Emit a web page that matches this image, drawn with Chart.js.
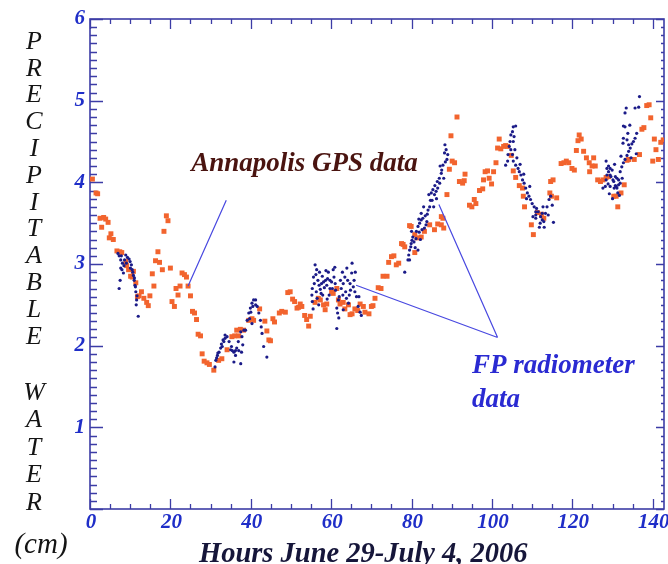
<!DOCTYPE html>
<html>
<head>
<meta charset="utf-8">
<script src="https://cdn.jsdelivr.net/npm/chart.js@4/dist/chart.umd.min.js"></script>
<style>
  html, body { margin: 0; padding: 0; background: #fff; }
  canvas { display: block; }
</style>
</head>
<body>
<canvas id="pwChart" width="668" height="564"></canvas>
<script>
// Annapolis GPS precipitable water (orange squares)
var gpsHours = [0.6, 1.5, 1.9, 2.5, 2.9, 3.4, 3.9, 4.5, 4.8, 5.2, 5.8, 6.7, 7.4, 7.9, 8.9, 9.1, 9.6, 10.1, 10.5, 10.8,
    11.4, 11.8, 12.2, 12.8, 13.4, 14.1, 14.5, 14.9, 15.5, 15.9, 16.3, 16.9, 17.3, 18.0, 18.4, 19.0, 19.4, 20.0, 20.4, 21.0,
    21.4, 21.9, 22.4, 22.9, 23.5, 24.0, 24.4, 25.0, 25.5, 26.0, 26.5, 26.9, 27.5, 27.9, 28.4, 29.1, 29.7, 30.8, 32.0, 32.8,
    34.1, 35.3, 36.0, 36.5, 37.0, 37.4, 38.2, 39.5, 40.3, 40.7, 42.2, 43.5, 44.0, 44.5, 44.9, 45.5, 45.9, 47.1, 47.7, 48.6,
    49.2, 49.8, 50.4, 50.9, 51.5, 51.9, 52.3, 52.7, 53.4, 53.9, 54.4, 54.8, 56.0, 56.8, 57.3, 58.1, 58.5, 58.9, 60.1, 60.5,
    61.4, 61.8, 62.2, 63.0, 63.4, 64.3, 64.7, 65.2, 65.9, 66.6, 67.2, 68.0, 68.4, 69.4, 70.0, 70.4, 70.9, 71.7, 72.4, 72.9,
    73.9, 74.3, 75.0, 75.6, 76.2, 76.8, 77.5, 77.9, 78.3, 79.5, 79.9, 80.8, 80.8, 81.4, 82.4, 83.2, 84.5, 85.7, 86.5, 87.4,
    87.4, 87.8, 88.0, 88.8, 89.4, 89.8, 90.1, 90.7, 91.3, 91.9, 92.7, 93.1, 93.3, 94.4, 95.0, 95.6, 96.0, 96.9, 97.7, 97.9,
    98.3, 98.9, 99.3, 99.9, 100.4, 101.0, 101.4, 101.8, 102.2, 102.9, 103.4, 103.9, 104.8, 105.3, 105.9, 106.8, 107.6, 107.8, 108.1, 109.8,
    110.3, 111.3, 112.3, 112.9, 114.4, 114.6, 114.8, 115.2, 116.1, 117.2, 117.9, 118.5, 119.1, 119.9, 120.5, 121.0, 121.4, 121.7, 122.2, 122.8,
    123.5, 124.2, 124.3, 124.9, 125.3, 125.7, 126.3, 127.0, 127.6, 128.4, 129.0, 130.3, 130.9, 131.3, 132.1, 132.9, 133.6, 134.0, 135.4, 136.7,
    137.3, 137.8, 138.5, 139.1, 139.5, 140.0, 140.4, 140.8, 141.4, 142.0, 142.6];
var gpsPW = [4.04, 3.87, 3.86, 3.56, 3.45, 3.57, 3.55, 3.51, 3.32, 3.37, 3.30, 3.16, 3.15, 3.14, 3.03, 2.98, 2.93, 2.85, 2.84, 2.91,
    2.77, 2.60, 2.61, 2.66, 2.58, 2.53, 2.49, 2.61, 2.88, 2.73, 3.04, 3.15, 3.02, 2.93, 3.40, 3.59, 3.53, 2.95, 2.54, 2.48,
    2.70, 2.62, 2.73, 2.89, 2.87, 2.84, 2.73, 2.61, 2.42, 2.40, 2.32, 2.14, 2.12, 1.90, 1.81, 1.79, 1.77, 1.70, 1.82, 1.84,
    1.95, 2.11, 2.12, 2.19, 2.12, 2.20, 2.19, 2.31, 2.33, 2.31, 2.45, 2.30, 2.18, 2.07, 2.06, 2.33, 2.29, 2.40, 2.42, 2.41,
    2.65, 2.66, 2.57, 2.54, 2.46, 2.47, 2.51, 2.48, 2.37, 2.32, 2.24, 2.36, 2.53, 2.58, 2.56, 2.50, 2.44, 2.51, 2.66, 2.64,
    2.70, 2.56, 2.51, 2.53, 2.45, 2.50, 2.38, 2.39, 2.45, 2.43, 2.51, 2.48, 2.41, 2.39, 2.48, 2.49, 2.58, 2.71, 2.70, 2.85,
    2.85, 3.02, 3.09, 3.10, 2.99, 3.01, 3.25, 3.24, 3.21, 3.47, 3.46, 3.36, 3.14, 3.32, 3.33, 3.40, 3.48, 3.42, 3.49, 3.48,
    3.58, 3.56, 3.44, 3.85, 4.16, 4.57, 4.26, 4.24, 4.80, 4.01, 3.99, 4.02, 4.10, 3.72, 3.70, 3.79, 3.74, 3.90, 3.92, 4.03,
    4.13, 4.14, 4.05, 3.98, 4.13, 4.24, 4.42, 4.53, 4.41, 4.44, 4.45, 4.44, 4.33, 4.14, 4.06, 3.96, 3.93, 3.83, 3.70, 3.48,
    3.36, 3.63, 3.61, 3.56, 3.87, 4.01, 3.83, 4.03, 3.81, 4.23, 4.24, 4.26, 4.24, 4.17, 4.15, 4.39, 4.51, 4.58, 4.53, 4.38,
    4.30, 4.24, 4.13, 4.20, 4.30, 4.20, 4.03, 4.01, 4.03, 4.06, 4.07, 3.83, 3.83, 3.70, 3.87, 3.97, 4.27, 4.28, 4.28, 4.34,
    4.65, 4.67, 4.94, 4.95, 4.79, 4.26, 4.53, 4.40, 4.28, 4.49, 4.52];

// FP radiometer precipitable water (blue dots)
var fpHours = [6.95, 7.25, 7.25, 7.5, 7.65, 7.65, 7.8, 7.95, 8.07, 8.32, 8.45, 8.6, 8.89, 9.05, 9.31, 9.73, 9.98, 10.05, 10.3, 10.5,
    10.65, 10.8, 11.0, 11.05, 11.2, 11.3, 11.4, 11.5, 11.6, 11.7, 12.0,
    31.1, 31.3, 31.5, 31.7, 31.8, 32.1, 32.5, 32.7, 32.9, 33.1, 33.3, 33.6, 33.6, 34.1, 34.6, 35.0, 35.2, 35.4, 35.8, 35.8,
    36.2, 36.2, 36.5, 36.9, 37.0, 37.5, 37.5, 37.7, 37.8, 38.0, 38.3, 38.7, 39.1, 39.5, 39.7, 39.9, 40.0, 40.3, 40.3, 40.5,
    40.7, 41.2, 41.2, 41.6, 42.0, 42.4, 42.6, 42.8, 43.2, 44.0,
    55.2, 55.3, 55.3, 55.6, 55.8, 56.0, 56.2, 56.4, 56.5, 56.7, 57.0, 57.3, 57.5, 57.6, 57.8, 58.1, 58.3, 58.6, 58.9, 59.1,
    59.3, 59.7, 59.7, 60.1, 60.5, 60.7, 61.0, 61.1, 61.4, 61.4, 61.6, 61.8, 62.0, 62.5, 62.8, 63.0, 63.0, 63.4, 63.6, 63.8,
    64.1, 64.3, 64.7, 64.8, 65.1, 65.2, 65.5, 65.9, 66.3, 66.7, 67.2, 67.5,
    55.5, 56.3, 57.1, 57.9, 58.7, 59.5, 60.3, 60.9, 62.3, 62.9, 63.9, 64.5, 65.7, 66.0, 66.9, 56.9, 59.0, 61.9,
    78.3, 79.1, 79.3, 79.5, 79.5, 79.8, 79.9, 80.1, 80.3, 80.6, 81.1, 81.2, 81.6, 81.6, 81.9, 82.0, 82.4, 82.4, 82.6, 82.8,
    83.2, 83.4, 83.6, 83.9, 84.1, 84.5, 84.7, 84.9, 85.1, 85.3, 85.7, 85.8, 86.1, 86.4, 86.5, 86.9, 87.0, 87.4, 87.5, 87.8,
    88.2, 88.3, 88.6, 88.8, 89.0,
    80.0, 80.9, 81.8, 82.2, 83.0, 83.8, 84.3, 85.5, 86.2, 87.1, 88.0, 88.4,
    103.4, 103.9, 104.0, 104.3, 104.7, 104.7, 105.1, 105.1, 105.3, 105.3, 105.3, 105.5, 105.9, 105.9, 106.5, 106.8, 107.2, 107.6, 108.0, 108.4,
    108.8, 109.2, 109.6, 110.0, 110.5, 110.9, 110.9, 110.9, 111.1, 111.5, 112.0, 112.1, 112.5, 112.5, 112.9, 113.3, 113.7, 114.2, 114.6, 115.0,
    115.3,
    104.5, 105.7, 106.2, 107.0, 107.9, 108.6, 109.4, 110.2, 111.8, 113.0, 114.0, 112.7,
    127.6, 128.2, 128.4, 128.4, 128.6, 128.6, 129.0, 129.0, 129.4, 129.4, 129.4, 129.6, 129.9, 130.1, 130.3, 130.4, 130.7, 130.7, 130.9, 131.1,
    131.1, 131.3, 131.5, 131.5, 131.9, 131.9, 132.1, 132.3, 132.6, 132.7, 132.7, 132.7, 133.1, 133.1, 133.1, 133.4, 133.6, 133.6, 134.0, 134.0,
    134.4, 134.8, 135.2, 135.6, 135.6, 136.0, 136.5, 136.7,
    129.2, 130.0, 130.5, 131.7, 132.4, 128.9, 133.8, 134.6, 135.9, 134.3];
var fpPW = [3.13, 3.10, 2.70, 2.80, 3.05, 2.95, 3.10, 2.93, 3.01, 2.89, 2.98, 3.05, 3.11, 3.01, 3.08, 3.06, 3.03, 2.95, 2.99, 2.93,
    2.90, 2.86, 2.80, 2.83, 2.74, 2.72, 2.66, 2.50, 2.56, 2.61, 2.36,
    1.74, 1.82, 1.85, 1.88, 1.91, 1.92, 1.97, 2.02, 1.99, 2.07, 2.05, 2.09, 2.13, 2.11, 2.05, 1.95, 1.99, 1.94, 1.92, 1.80,
    1.94, 1.88, 1.97, 2.05, 1.94, 2.17, 1.78, 1.92, 2.11, 2.01, 2.19, 2.19, 2.31, 2.40, 2.33, 2.46, 2.41, 2.52, 2.27, 2.48,
    2.56, 2.50, 2.56, 2.48, 2.40, 2.31, 2.23, 2.15, 1.99, 1.86,
    2.62, 2.70, 2.54, 2.84, 2.76, 2.99, 2.87, 2.93, 2.58, 2.80, 2.74, 2.69, 2.64, 2.76, 2.85, 2.78, 2.71, 2.80, 2.74, 2.82,
    2.90, 2.80, 2.70, 2.78, 2.93, 2.84, 2.76, 2.68, 2.46, 2.21, 2.40, 2.56, 2.60, 2.70, 2.90, 2.76, 2.44, 2.84, 2.66, 2.58,
    2.80, 2.52, 2.76, 2.68, 2.89, 3.01, 2.72, 2.66, 2.60, 2.48, 2.41, 2.37,
    2.45, 2.66, 2.90, 2.62, 2.92, 2.62, 2.70, 2.96, 2.80, 2.62, 2.95, 2.62, 2.80, 2.90, 2.60, 2.50, 2.57, 2.34,
    2.90, 3.05, 3.11, 3.17, 3.05, 3.21, 3.25, 3.29, 3.33, 3.27, 3.31, 3.40, 3.46, 3.17, 3.39, 3.50, 3.54, 3.62, 3.42, 3.56,
    3.44, 3.59, 3.48, 3.61, 3.66, 3.70, 3.78, 3.87, 3.78, 3.91, 3.85, 3.96, 3.89, 4.01, 3.93, 4.05, 3.99, 4.11, 4.15, 4.21,
    4.36, 4.46, 4.40, 4.28, 4.34,
    3.40, 3.20, 3.55, 3.30, 3.70, 3.52, 3.85, 3.70, 3.80, 4.20, 4.05, 4.25,
    4.21, 4.26, 4.34, 4.44, 4.58, 4.40, 4.62, 4.34, 4.68, 4.50, 4.26, 4.56, 4.69, 4.21, 4.17, 4.13, 4.09, 4.03, 3.99, 3.93,
    3.87, 3.83, 3.79, 3.74, 3.70, 3.64, 3.60, 3.56, 3.68, 3.64, 3.50, 3.58, 3.54, 3.62, 3.52, 3.62, 3.70, 3.79, 3.83, 3.72,
    3.51,
    4.50, 4.40, 4.30, 4.22, 4.10, 3.80, 3.95, 3.58, 3.45, 3.45, 3.60, 3.70,
    3.93, 3.95, 4.26, 4.03, 4.09, 4.17, 4.20, 4.13, 4.17, 4.09, 3.95, 4.07, 4.15, 4.03, 4.01, 3.93, 4.07, 3.96, 3.95, 4.05,
    3.93, 3.87, 4.03, 3.97, 3.99, 4.13, 4.32, 4.19, 4.48, 4.24, 4.54, 4.69, 4.28, 4.68, 4.85, 4.91, 4.33, 4.52, 4.38, 4.46,
    4.42, 4.47, 4.50, 4.54, 4.91, 4.60, 4.92, 5.05,
    3.86, 3.80, 4.22, 3.84, 4.05, 3.98, 4.60, 4.30, 4.35, 4.70];

var xTickValues = [0, 20, 40, 60, 80, 100, 120, 140];
var yTickValues = [1, 2, 3, 4, 5, 6];

var serif = '"Liberation Serif", "DejaVu Serif", serif';
var axisColor = '#3c3ca6';
var tickTextColor = '#1f2ec8';

function toPoints(xs, ys) {
    return xs.map(function (h, i) { return { x: h, y: ys[i] }; });
}

// frame with inward ticks on all four sides, plus the tick labels
var framePlugin = {
    id: 'frame',
    beforeDatasetsDraw: function (chart) {
        var ctx = chart.ctx, a = chart.chartArea, xs = chart.scales.x, ys = chart.scales.y;
        ctx.save();
        ctx.strokeStyle = axisColor;
        ctx.lineWidth = 1.6;
        ctx.strokeRect(a.left, a.top, a.right - a.left, a.bottom - a.top);
        ctx.lineWidth = 1.3;
        ctx.beginPath();
        for (var v = 0; v <= xs.max; v += 5) {
            var px = Math.round(xs.getPixelForValue(v)) + 0.5;
            var major = v % 20 === 0;
            ctx.moveTo(px, a.bottom); ctx.lineTo(px, a.bottom - (major ? 10 : 5));
            ctx.moveTo(px, a.top); ctx.lineTo(px, a.top + (major ? 10 : 5));
        }
        for (var i = 0; i <= 60; i++) {
            var py = Math.round(ys.getPixelForValue(i / 10)) + 0.5;
            var maj = i % 10 === 0;
            ctx.moveTo(a.left, py); ctx.lineTo(a.left + (maj ? 13 : 7), py);
            ctx.moveTo(a.right, py); ctx.lineTo(a.right - (maj ? 8 : 3), py);
        }
        ctx.stroke();

        ctx.fillStyle = tickTextColor;
        ctx.font = 'italic bold 21px ' + serif;
        ctx.textAlign = 'right';
        ctx.textBaseline = 'middle';
        yTickValues.forEach(function (t) {
            ctx.fillText(String(t), a.left - 5, ys.getPixelForValue(t));
        });
        ctx.textAlign = 'center';
        xTickValues.forEach(function (t) {
            ctx.fillText(String(t), xs.getPixelForValue(t) + 1, a.bottom + 14);
        });
        ctx.restore();
    },
    afterDatasetsDraw: function (chart) {
        var ctx = chart.ctx, xs = chart.scales.x, ys = chart.scales.y;
        function P(x, y) { return [xs.getPixelForValue(x), ys.getPixelForValue(y)]; }
        ctx.save();
        // pointer lines
        ctx.strokeStyle = '#4848e0';
        ctx.lineWidth = 1.2;
        var lines = [[[33.9, 3.78], [24.4, 2.73]], [[86.8, 3.73], [101.4, 2.10]], [[66.2, 2.74], [101.4, 2.10]]];
        ctx.beginPath();
        lines.forEach(function (l) {
            var p0 = P(l[0][0], l[0][1]), p1 = P(l[1][0], l[1][1]);
            ctx.moveTo(p0[0], p0[1]); ctx.lineTo(p1[0], p1[1]);
        });
        ctx.stroke();

        ctx.font = 'italic bold 27px ' + serif;
        ctx.textAlign = 'left';
        ctx.textBaseline = 'alphabetic';
        ctx.fillStyle = '#4a1410';
        var g = P(25.2, 4.14);
        ctx.fillText('Annapolis GPS data', g[0], g[1]);
        ctx.fillStyle = '#2a2ad2';
        var f = P(95.05, 1.665);
        ctx.fillText('FP radiometer', f[0], f[1]);
        ctx.fillText('data', f[0], f[1] + 34);

        // axis titles
        ctx.fillStyle = '#141414';
        ctx.font = 'italic 26px ' + serif;
        ctx.textAlign = 'center';
        ctx.textBaseline = 'middle';
        'PRECIPITABLE'.split('').forEach(function (c, k) { ctx.fillText(c, 34, 42 + k * 26.8); });
        'WATER'.split('').forEach(function (c, k) { ctx.fillText(c, 34, 393 + k * 27.5); });
        ctx.font = 'italic 29px ' + serif;
        ctx.fillText('(cm)', 41, 545);
        ctx.fillStyle = '#16163a';
        ctx.font = 'italic bold 28.5px ' + serif;
        ctx.textAlign = 'left';
        ctx.textBaseline = 'alphabetic';
        ctx.fillText('Hours June 29-July 4, 2006', 199, 562);
        ctx.restore();
    }
};

var ctx = document.getElementById('pwChart').getContext('2d');
var pwChart = new Chart(ctx, {
    type: 'scatter',
    data: {
        datasets: [{
            label: 'FP radiometer data',
            data: toPoints(fpHours, fpPW),
            pointStyle: 'circle',
            pointRadius: 1.6,
            backgroundColor: '#1b1b88',
            borderWidth: 0
        }, {
            label: 'Annapolis GPS data',
            data: toPoints(gpsHours, gpsPW),
            pointStyle: 'rect',
            pointRadius: 3.5,
            backgroundColor: '#f2642e',
            borderWidth: 0
        }]
    },
    options: {
        responsive: false,
        animation: false,
        layout: { padding: { left: 90, top: 19, right: 1, bottom: 55 } },
        plugins: {
            legend: { display: false },
            tooltip: { enabled: false }
        },
        scales: {
            x: { type: 'linear', min: 0, max: 142.8, display: false },
            y: { min: 0, max: 6, display: false }
        }
    },
    plugins: [framePlugin]
});
</script>
</body>
</html>
